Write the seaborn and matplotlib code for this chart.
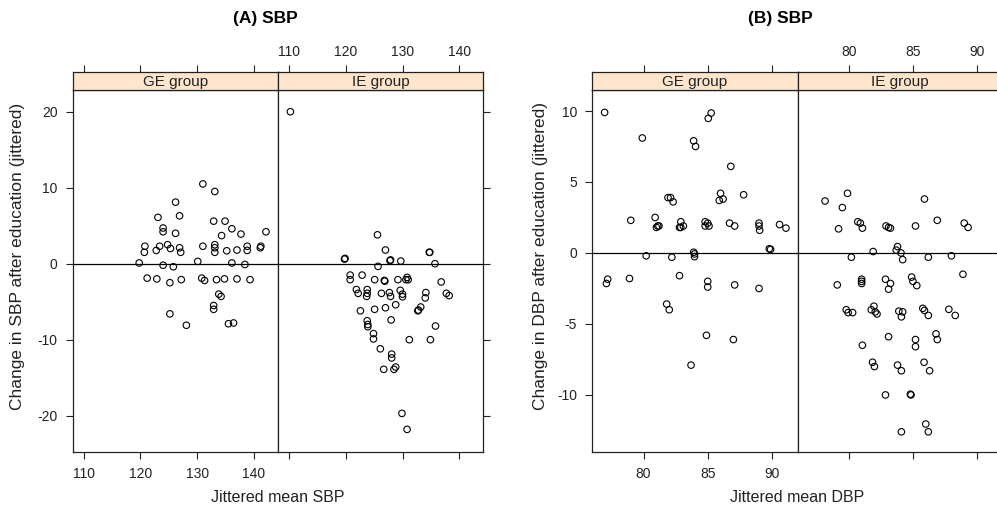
import pandas as pd
import seaborn as sns
import matplotlib.pyplot as plt

# (A) SBP, GE group: jittered mean SBP vs change in SBP
sbp_ge_x = [131.0, 133.1, 126.2, 123.1, 126.9, 132.9, 134.9, 124.0, 124.0, 126.2, 136.1, 134.3, 137.7, 142.1,
            120.8, 120.7, 122.8, 123.4, 124.8, 125.3, 126.9, 127.1, 131.0, 133.1, 133.1, 133.1, 135.2, 137.0,
            138.8, 138.8, 141.1, 141.2, 119.8, 124.0, 125.8, 130.1, 136.1, 138.4, 121.2, 122.9, 125.2, 127.2,
            130.8, 131.3, 133.4, 134.8, 137.0, 139.3, 133.8, 134.2, 132.9, 132.9, 125.2, 128.1, 135.5, 136.4]
sbp_ge_y = [10.5, 9.5, 8.1, 6.1, 6.3, 5.6, 5.6, 4.7, 4.2, 4.0, 4.6, 3.7, 3.9, 4.2,
            2.3, 1.5, 1.75, 2.3, 2.5, 2.0, 2.1, 1.5, 2.3, 2.5, 2.1, 1.5, 1.7, 1.8,
            2.3, 1.75, 2.1, 2.3, 0.1, -0.2, -0.4, 0.3, 0.1, -0.1, -1.9, -2.0, -2.5, -2.1,
            -1.9, -2.2, -2.1, -2.0, -2.0, -2.1, -4.0, -4.3, -5.5, -6.0, -6.6, -8.1, -7.9, -7.8]

# (A) SBP, IE group
sbp_ie_x = [110.3, 125.6, 127.0, 134.7, 134.8, 119.8, 119.9, 127.8, 127.9, 129.7, 135.7, 125.7,
            120.8, 120.8, 122.9, 125.1, 126.8, 126.9, 129.2, 130.8, 131.0, 130.6, 136.8,
            121.9, 122.2, 123.8, 123.7, 123.8, 126.3, 127.7, 127.9, 129.6, 130.0, 130.0, 134.1, 134.0,
            137.7, 138.2, 122.6, 125.1, 127.0, 128.8, 133.2, 132.8, 132.7, 128.0, 135.8,
            123.8, 123.9, 123.9, 124.9, 124.9, 131.2, 134.9, 126.1, 128.1, 128.1,
            126.7, 128.5, 128.8, 129.9, 130.8]
sbp_ie_y = [20.0, 3.8, 1.8, 1.5, 1.5, 0.6, 0.7, 0.4, 0.5, 0.35, 0.0, -0.35,
            -1.5, -2.1, -1.5, -2.1, -2.2, -2.3, -2.1, -1.8, -2.1, -2.1, -2.4,
            -3.4, -3.9, -3.4, -4.3, -3.9, -3.9, -3.8, -4.3, -3.5, -4.0, -4.35, -3.8, -4.5,
            -3.9, -4.2, -6.2, -6.0, -5.8, -5.4, -5.7, -6.1, -6.2, -7.4, -8.2,
            -7.5, -8.0, -8.3, -9.2, -9.9, -10.0, -10.0, -11.2, -11.9, -12.4,
            -13.9, -13.9, -13.6, -19.7, -21.8]

# (B) DBP, GE group
dbp_ge_x = [76.96, 79.9, 85.27, 85.04, 83.9, 84.05, 86.8, 86.0, 87.8, 81.9, 82.1, 82.3, 85.9, 86.2,
            79.0, 80.9, 81.0, 81.1, 81.2, 82.9, 82.9, 82.8, 83.1, 84.8, 84.8, 85.0, 85.1,
            86.7, 87.1, 89.0, 89.0, 89.05, 90.6, 91.1, 89.8, 89.9, 83.9, 83.97, 83.97, 80.2, 82.2,
            77.2, 77.1, 78.9, 82.8, 85.0, 85.0, 87.1, 89.0, 81.8, 82.0, 84.9, 87.0, 83.7]
dbp_ge_y = [9.9, 8.1, 9.86, 9.48, 7.9, 7.5, 6.1, 4.2, 4.1, 3.9, 3.9, 3.6, 3.7, 3.8,
            2.3, 2.5, 1.8, 1.9, 1.9, 2.2, 1.8, 1.8, 1.9, 2.2, 1.9, 2.1, 1.9,
            2.1, 1.9, 2.1, 1.9, 1.6, 2.0, 1.75, 0.3, 0.25, 0.05, -0.07, -0.26, -0.2, -0.3,
            -1.85, -2.15, -1.8, -1.6, -2.0, -2.4, -2.25, -2.5, -3.6, -4.0, -5.8, -6.1, -7.9]

# (B) DBP, IE group
dbp_ie_x = [78.15, 79.9, 79.5, 85.9, 79.2, 80.7, 80.9, 81.06, 82.9, 83.1, 83.25, 85.2, 86.9, 89.0, 89.3,
            81.9, 83.8, 83.7, 84.07, 84.2, 80.2, 86.2, 88.0, 88.9,
            79.1, 81.0, 81.0, 81.0, 82.86, 83.25, 83.1, 84.9, 85.0, 85.3,
            79.8, 79.95, 80.3, 81.75, 81.96, 82.06, 82.2, 83.9, 84.2, 84.1, 85.77, 85.9, 86.2, 87.8, 88.3,
            86.8, 86.9, 83.1, 85.2, 85.2, 81.06, 81.85, 82.0, 83.8, 84.1, 85.87, 86.3,
            82.86, 84.8, 84.85, 84.1, 86.0, 86.2]
dbp_ie_y = [3.66, 4.2, 3.2, 3.8, 1.7, 2.2, 2.1, 1.75, 1.9, 1.8, 1.75, 1.9, 2.3, 2.1, 1.8,
            0.1, 0.45, 0.2, 0.0, -0.47, -0.3, -0.3, -0.2, -1.5,
            -2.25, -1.85, -2.0, -2.15, -1.85, -2.15, -2.55, -1.7, -2.0, -2.3,
            -4.0, -4.2, -4.2, -4.0, -3.75, -4.15, -4.3, -4.1, -4.15, -4.5, -3.9, -4.05, -4.4, -3.97, -4.4,
            -5.7, -6.1, -5.9, -6.1, -6.6, -6.5, -7.7, -8.0, -7.9, -8.3, -7.7, -8.3,
            -10.0, -9.95, -10.0, -12.6, -12.05, -12.6]

groups = ['GE group', 'IE group']
W, H = 997, 514

sns.set_theme(style='white')
plt.rcParams['font.family'] = ['Liberation Sans', 'DejaVu Sans']
plt.rcParams['axes.unicode_minus'] = False

fig = plt.figure(figsize=(W / 100, H / 100), dpi=100)


def box(x0, y0, x1, y1):
    return [x0 / W, 1 - y1 / H, (x1 - x0) / W, (y1 - y0) / H]


def style_spines(ax):
    for s in ax.spines.values():
        s.set_color('#222222')
        s.set_linewidth(0.9)


def panel_pair(xs, ys, edges, top, bottom, xlim, ylim, xticks, yticks, ylabel, ylab_x):
    strip_top = top - 18.3
    for i, g in enumerate(groups):
        x0, x1 = edges[i], edges[i + 1]
        df = pd.DataFrame({'x': xs[i], 'y': ys[i]})
        ax = fig.add_axes(box(x0, top, x1, bottom))
        sns.scatterplot(data=df, x='x', y='y', ax=ax, s=22, marker='o',
                        color='black', linewidth=0.8, legend=False)
        ax.collections[-1].set_facecolor('none')
        ax.collections[-1].set_edgecolor('black')
        ax.axhline(0, color='black', lw=0.9, zorder=1)
        ax.set_xlim(xlim)
        ax.set_ylim(ylim)
        ax.set_xticks(xticks)
        ax.set_yticks(yticks)
        ax.set_xlabel('')
        ax.set_ylabel('')
        ax.tick_params(direction='out', length=5, width=0.8, color='#222222',
                       labelsize=10, labelcolor='#222222', pad=6)
        ax.tick_params(axis='x', bottom=True, labelbottom=(i == 0))
        if i == 0:
            ax.tick_params(axis='y', left=True, labelleft=True, right=False)
        else:
            ax.tick_params(axis='y', left=False, labelleft=False, right=True, labelright=False)
        style_spines(ax)

        st = fig.add_axes(box(x0, strip_top, x1, top))
        st.set_facecolor('#FFE5CC')
        st.set_xlim(xlim)
        st.set_ylim(0, 1)
        st.set_xticks(xticks)
        st.set_yticks([])
        st.tick_params(axis='x', direction='out', length=5, width=0.8, color='#222222',
                       bottom=False, labelbottom=False, top=True, labeltop=(i == 1),
                       labelsize=10, labelcolor='#222222', pad=4.5)
        st.text(0.5, 0.45, g, transform=st.transAxes, ha='center', va='center',
                fontsize=11, color='#222222')
        style_spines(st)

    fig.text(ylab_x / W, 1 - 256 / H, ylabel, ha='center', va='center',
             rotation=90, fontsize=12.5, color='#222222')


panel_pair([sbp_ge_x, sbp_ie_x], [sbp_ge_y, sbp_ie_y], [72.7, 277.9, 483.3], 90, 451.7,
           (108.1, 144.2), (-24.74, 22.86), [110, 120, 130, 140], [-20, -10, 0, 10, 20],
           'Change in SBP after education (jittered)', 18)
panel_pair([dbp_ge_x, dbp_ie_x], [dbp_ge_y, dbp_ie_y], [592.3, 797.5, 1002.7], 90, 451.7,
           (76.0, 92.0), (-14.0, 11.48), [80, 85, 90], [-10, -5, 0, 5, 10],
           'Change in DBP after education (jittered)', 540)

fig.text(278 / W, 1 - 497 / H, 'Jittered mean SBP', ha='center', va='center', fontsize=11.5,
         color='#222222')
fig.text(797 / W, 1 - 497 / H, 'Jittered mean DBP', ha='center', va='center', fontsize=11.5,
         color='#222222')
fig.text(265 / W, 1 - 18 / H, '(A) SBP', ha='center', va='center', fontsize=12.5,
         fontweight='bold', color='black')
fig.text(780 / W, 1 - 18 / H, '(B) SBP', ha='center', va='center', fontsize=12.5,
         fontweight='bold', color='black')

fig.savefig('out.png', dpi=100)
